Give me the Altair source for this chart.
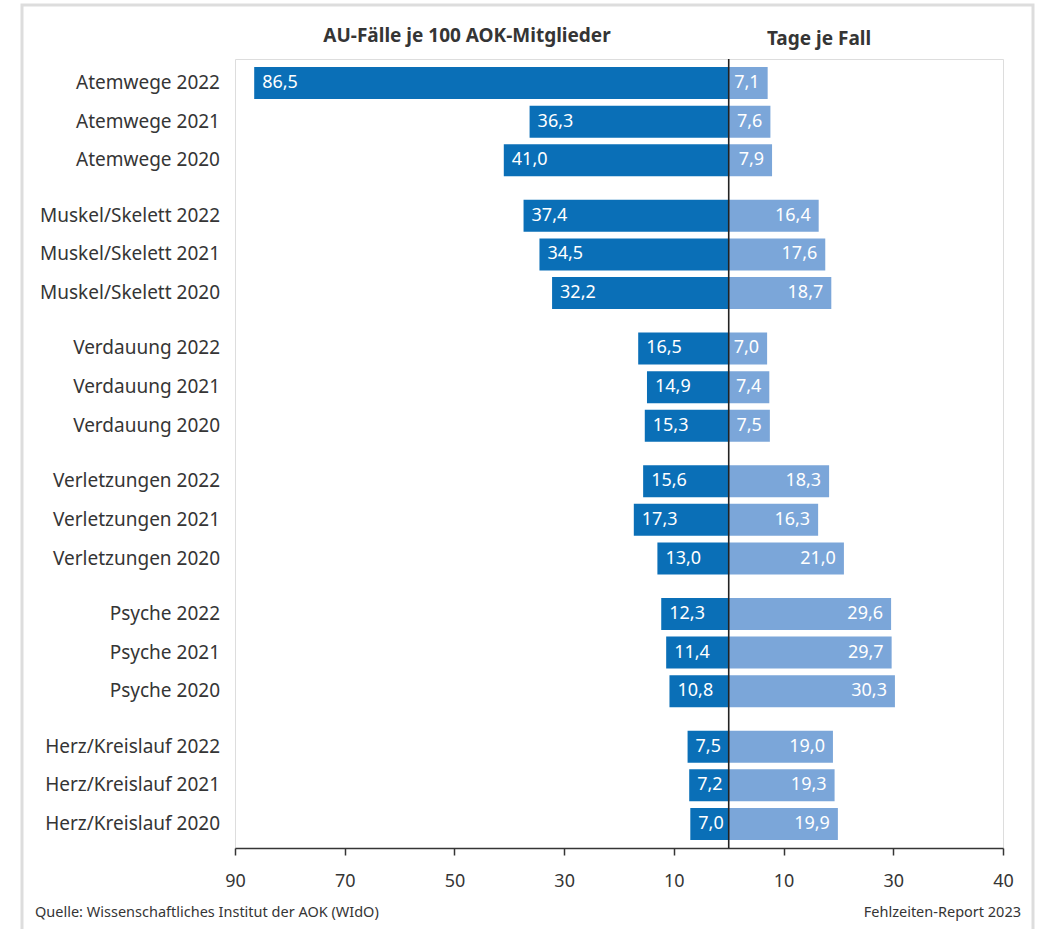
import altair as alt
import pandas as pd

categories = ["Atemwege", "Muskel/Skelett", "Verdauung", "Verletzungen", "Psyche", "Herz/Kreislauf"]
years = ["2022", "2021", "2020"]
au_faelle = [
    [86.5, 36.3, 41.0],
    [37.4, 34.5, 32.2],
    [16.5, 14.9, 15.3],
    [15.6, 17.3, 13.0],
    [12.3, 11.4, 10.8],
    [7.5, 7.2, 7.0],
]
tage_je_fall = [
    [7.1, 7.6, 7.9],
    [16.4, 17.6, 18.7],
    [7.0, 7.4, 7.5],
    [18.3, 16.3, 21.0],
    [29.6, 29.7, 30.3],
    [19.0, 19.3, 19.9],
]
x_ticks = [-90, -70, -50, -30, -10, 10, 30, 50]
x_tick_labels = ["90", "70", "50", "30", "10", "10", "30", "40"]

DARK = "#0a6fb7"
LIGHT = "#7ba6d9"
TEXT = "#353535"
FONT = "Noto Sans"

rows = []
for i, c in enumerate(categories):
    for j, y in enumerate(years):
        rows.append({
            "cat": c,
            "year": y,
            "label": f"{c} {y}",
            "au": -au_faelle[i][j],
            "tage": tage_je_fall[i][j],
            "au_txt": f"{au_faelle[i][j]:.1f}".replace(".", ","),
            "tage_txt": f"{tage_je_fall[i][j]:.1f}".replace(".", ","),
        })
df = pd.DataFrame(rows)

label_expr = ""
for v, l in zip(x_ticks, x_tick_labels):
    label_expr += f"datum.value == {v} ? '{l}' : "
label_expr += "''"

def xenc(field):
    return alt.X(
        field,
        type="quantitative",
        scale=alt.Scale(domain=[-90, 50], nice=False, zero=False),
        axis=alt.Axis(
            values=x_ticks, labelExpr=label_expr, title=None, grid=False,
            domainColor=TEXT, domainWidth=1.5, tickColor=TEXT, tickSize=7,
            tickWidth=1.5, labelFontSize=18, labelColor=TEXT, labelPadding=17,
            labelFont=FONT, labelFlush=False, labelOverlap=False,
        ),
    )

base = alt.Chart(df).encode(
    y=alt.Y("cat:N", sort=categories, axis=None,
            scale=alt.Scale(paddingInner=0.176, paddingOuter=0.06)),
    yOffset=alt.YOffset("year:N", sort=years,
                        scale=alt.Scale(paddingInner=0.173, paddingOuter=0)),
)

bars_au = base.mark_bar(color=DARK).encode(x=xenc("au"))
bars_tage = base.mark_bar(color=LIGHT).encode(x=xenc("tage"))
txt_au = base.mark_text(align="left", baseline="middle", dx=8, color="white",
                        fontSize=18, font=FONT).encode(x=xenc("au"), text="au_txt:N")
txt_tage = base.mark_text(align="right", baseline="middle", dx=-8, color="white",
                          fontSize=18, font=FONT).encode(x=xenc("tage"), text="tage_txt:N")
ylabels = base.mark_text(align="right", baseline="middle", color=TEXT,
                         fontSize=19, font=FONT).encode(x=alt.value(-15), text="label:N")

center = alt.Chart(pd.DataFrame({"z": [0]})).mark_rule(color="#222222", strokeWidth=1.6).encode(
    x=alt.datum(0, type="quantitative")
)

def label(text, x, y, align="center", size=19, weight="normal"):
    return alt.Chart(pd.DataFrame({"t": [text]})).mark_text(
        align=align, baseline="alphabetic", fontSize=size, fontWeight=weight,
        color=TEXT, font=FONT,
    ).encode(x=alt.value(x), y=alt.value(y), text="t:N")

title_left = label("AU-Fälle je 100 AOK-Mitglieder", 232, -17, size=19, weight="bold")
title_right = label("Tage je Fall", 584, -14, size=19, weight="bold")
src = label("Quelle: Wissenschaftliches Institut der AOK (WIdO)", -200, 858, align="left", size=14.5)
rep = label("Fehlzeiten-Report 2023", 786, 858, align="right", size=14.5)

frame = alt.Chart(pd.DataFrame({"f": [0]})).mark_rect(
    fillOpacity=0, stroke="#dddddd", strokeWidth=3
).encode(x=alt.value(-213), x2=alt.value(798), y=alt.value(-54), y2=alt.value(900))

chart = alt.layer(
    frame, bars_au, bars_tage, txt_au, txt_tage, ylabels, center,
    title_left, title_right, src, rep,
).properties(
    width=768, height=789,
    padding={"left": 235, "top": 59, "right": 38, "bottom": 81},
    autosize=alt.AutoSizeParams(type="none"),
).configure_view(stroke=None).configure(font=FONT)

chart.save("out.html", embed_options={"renderer": "svg", "actions": False})
